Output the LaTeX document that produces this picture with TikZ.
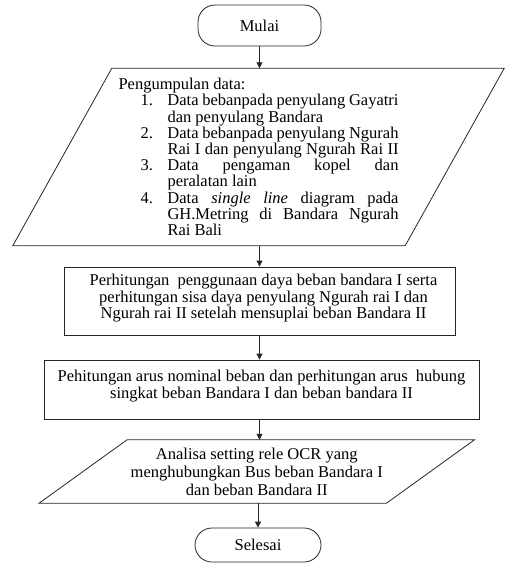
\documentclass[tikz,border=0pt]{standalone}
\usepackage{fontspec}
\setmainfont{Liberation Serif}
\usetikzlibrary{arrows.meta}
\newcommand{\butir}[2]{\hspace*{22pt}\makebox[27pt][l]{#1}\makebox[231pt][s]{#2}}
\newcommand{\sambung}[1]{\hspace*{49pt}\makebox[231pt][s]{#1}}
\newcommand{\akhir}[1]{\hspace*{49pt}\makebox[231pt][l]{#1}}
\tikzset{
  garis/.style={line width=0.8pt, draw=black!85},
  terminal/.style={garis, rounded corners=17pt, inner sep=0pt},
  proses/.style={garis, inner sep=0pt, align=center},
  isi/.style={inner sep=0pt},
  panah/.style={garis, -{Triangle[length=6pt,width=6pt]}}
}
\begin{document}
\begin{tikzpicture}[x=1pt, y=-1pt, font=\fontsize{16.5pt}{16.7pt}\selectfont]
    \useasboundingbox (0,0) rectangle (518,568);
    % Start
    \node[terminal, minimum width=123pt, minimum height=41pt] (mulai) at (259.5,25.5) {Mulai};
    % Data collection (parallelogram drawn round the node)
    \node[isi, minimum width=392pt, minimum height=177pt, align=left,
          font=\fontsize{16.5pt}{16.2pt}\selectfont] (data) at (258.5,157) {%
      Pengumpulan data:\\
      \butir{1.}{Data bebanpada penyulang Gayatri}\\
      \akhir{dan penyulang Bandara}\\
      \butir{2.}{Data bebanpada penyulang Ngurah}\\
      \sambung{Rai I dan penyulang Ngurah Rai II}\\
      \butir{3.}{Data pengaman kopel dan}\\
      \akhir{peralatan lain}\\
      \butir{4.}{Data \textit{single line} diagram pada}\\
      \sambung{GH.Metring di Bandara Ngurah}\\
      \akhir{Rai Bali}};
    \draw[garis] ([xshift=49.5pt]data.north west) -- ([xshift=49.5pt]data.north east)
      -- ([xshift=-49.5pt]data.south east) -- ([xshift=-49.5pt]data.south west) -- cycle;
    % Power calculation
    \node[proses, minimum width=391pt, minimum height=68pt] (hitungdaya) at (259.5,301) {%
      \hspace*{8pt}Perhitungan\ \ penggunaan daya beban bandara I serta\\
      \hspace*{8pt}perhitungan sisa daya penyulang Ngurah rai I dan\\[-0.5pt]
      \hspace*{8pt}Ngurah rai II setelah mensuplai beban Bandara II\\[-8pt]\mbox{}};
    % Current calculation
    \node[proses, minimum width=435pt, minimum height=59pt] (hitungarus) at (261.5,389.5) {%
      Pehitungan arus nominal beban dan perhitungan arus\ \ hubung\\
      singkat beban Bandara I dan beban bandara II\\[-6pt]\mbox{}};
    % Relay analysis (parallelogram drawn round the node)
    \node[isi, minimum width=347pt, minimum height=63pt, align=center,
          font=\fontsize{16.5pt}{18pt}\selectfont] (analisa) at (256.75,471.5) {%
      Analisa setting rele OCR yang\\
      menghubungkan Bus beban Bandara I\\
      dan beban Bandara II};
    \draw[garis] ([xshift=44pt]analisa.north west) -- ([xshift=44pt]analisa.north east)
      -- ([xshift=-44pt]analisa.south east) -- ([xshift=-44pt]analisa.south west) -- cycle;
    % End
    \node[terminal, minimum width=126pt, minimum height=34pt] (selesai) at (258,545) {Selesai};
    % Arrows
    \draw[panah] (mulai.south) -- (mulai.south |- data.north);
    \draw[panah] (hitungdaya.north |- data.south) -- (hitungdaya.north);
    \draw[panah] (hitungdaya.south) -- (hitungdaya.south |- hitungarus.north);
    \draw[panah] (hitungdaya.south |- hitungarus.south) -- (hitungdaya.south |- analisa.north);
    \draw[panah] (selesai.north |- analisa.south) -- (selesai.north);
\end{tikzpicture}
\end{document}
